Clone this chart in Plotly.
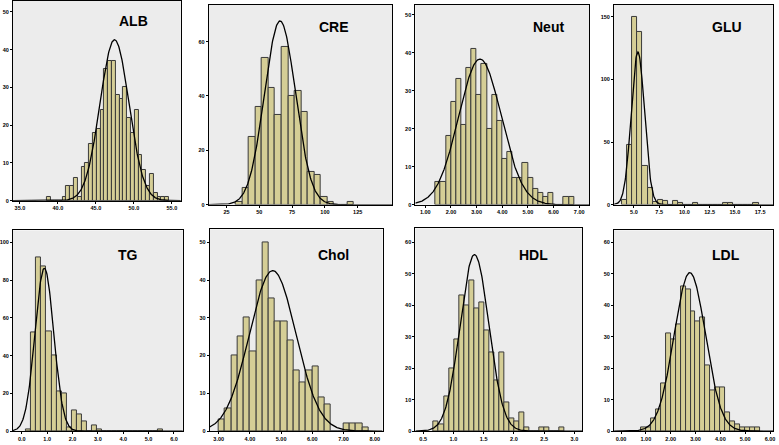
import numpy as np
import plotly.graph_objects as go

W, H = 779, 445

# ---------------- data ----------------
alb_start, alb_width = 38.6, 0.5
alb_counts = [1, 0, 0, 0, 1, 4, 4, 6, 1, 9, 10, 15, 18, 19, 24, 35, 37, 37, 28, 27,
              30, 22, 18, 24, 12, 8, 4, 7, 2, 1, 1, 1]
alb_mean, alb_sd = 47.45, 1.90

cre_start, cre_width = 32.0, 5.0
cre_counts = [1, 6, 25, 36, 54, 43, 33, 58, 40, 42, 34, 12, 11, 3, 1, 0, 0, 1]
cre_mean, cre_sd = 65.8, 11.8

neut_start, neut_width = 1.4, 0.2
neut_counts = [6, 6, 18, 27, 33, 21, 36, 41, 29, 37, 20, 29, 22, 12, 14, 7, 7, 11, 7, 4,
               3, 2, 3, 0, 0, 2, 2]
neut_mean, neut_sd = 3.13, 0.83

glu_start, glu_width = 3.85, 0.5
glu_counts = [4, 48, 150, 138, 31, 13, 2, 4, 3, 0, 3, 1, 0, 0, 1, 0, 0, 0, 0, 0,
              1, 1, 0, 0, 0, 0, 1]
glu_mean, glu_sd = 5.39, 0.656

tg_start, tg_width = 0.17, 0.2
tg_counts = [1, 52, 92, 87, 53, 40, 21, 20, 2, 11, 9, 5, 0, 3, 1, 0, 0, 0, 0, 0,
             0, 0, 0, 0, 0, 0, 1]
tg_mean, tg_sd = 0.89, 0.368

chol_start, chol_width = 3.0, 0.2
chol_counts = [3, 6, 20, 25, 30, 21, 40, 50, 35, 29, 29, 24, 16, 13, 16, 17, 9, 7, 0, 0,
               2, 2, 2, 1]
chol_mean, chol_sd = 4.73, 0.745

hdl_start, hdl_width = 0.675, 0.0833
hdl_counts = [3, 2, 11, 20, 29, 43, 40, 48, 39, 41, 32, 25, 16, 25, 9, 4, 3, 6, 1, 0,
              0, 1, 1, 0, 0, 1]
hdl_mean, hdl_sd = 1.348, 0.237

ldl_start, ldl_width = 0.8, 0.2
ldl_counts = [1, 1, 4, 7, 15, 31, 29, 34, 46, 45, 38, 35, 36, 21, 13, 14, 14, 6, 3, 2,
              1, 1, 1, 1]
ldl_mean, ldl_sd = 2.77, 0.632

names = ["ALB", "CRE", "Neut", "GLU", "TG", "Chol", "HDL", "LDL"]
x_ticks = [
    [35.0, 40.0, 45.0, 50.0, 55.0],
    [25, 50, 75, 100, 125],
    [1.0, 2.0, 3.0, 4.0, 5.0, 6.0, 7.0],
    [5.0, 7.5, 10.0, 12.5, 15.0, 17.5],
    [0.0, 1.0, 2.0, 3.0, 4.0, 5.0, 6.0],
    [3.0, 4.0, 5.0, 6.0, 7.0, 8.0],
    [0.5, 1.0, 1.5, 2.0, 2.5, 3.0],
    [0.0, 1.0, 2.0, 3.0, 4.0, 5.0, 6.0],
]
x_fmt = [".1f", "d", ".2f", ".1f", ".1f", ".2f", ".1f", ".2f"]
y_ticks = [
    [0, 10, 20, 30, 40, 50],
    [0, 20, 40, 60],
    [0, 10, 20, 30, 40, 50],
    [0, 50, 100, 150],
    [0, 20, 40, 60, 80, 100],
    [0, 10, 20, 30, 40, 50],
    [0, 10, 20, 30, 40, 50, 60],
    [0, 10, 20, 30, 40, 50, 60],
]

panels = [
    (alb_start, alb_width, alb_counts, alb_mean, alb_sd),
    (cre_start, cre_width, cre_counts, cre_mean, cre_sd),
    (neut_start, neut_width, neut_counts, neut_mean, neut_sd),
    (glu_start, glu_width, glu_counts, glu_mean, glu_sd),
    (tg_start, tg_width, tg_counts, tg_mean, tg_sd),
    (chol_start, chol_width, chol_counts, chol_mean, chol_sd),
    (hdl_start, hdl_width, hdl_counts, hdl_mean, hdl_sd),
    (ldl_start, ldl_width, ldl_counts, ldl_mean, ldl_sd),
]

# ---------------- layout (pixel frames, axis ranges) ----------------
frames = [  # left, right, top, bottom in px
    (10, 179, 1, 202),
    (207, 392, 5, 206),
    (415, 590, 5, 206),
    (615, 775, 5, 206),
    (10, 181, 232, 434),
    (208, 382, 231, 434),
    (415, 583, 230, 434),
    (615, 775, 232, 434),
]
x_ranges = [
    (34.08, 56.18), (11.4, 151.5), (0.61, 7.39), (3.03, 18.78),
    (-0.35, 6.35), (2.71, 8.25), (0.37, 3.13), (-0.28, 6.12),
]
y_ranges = [
    (0, 52.9), (0, 73.5), (0, 52.6), (0, 159.5),
    (0, 106.3), (0, 53.4), (0, 64.4), (0, 63.8),
]
title_pos = [
    (131, 21), (333, 27), (549, 27), (729, 27),
    (126, 257), (333, 257), (534, 257), (728, 257),
]

BAR_COLOR = "#D5CE96"
fig = go.Figure()
layout = dict(
    width=W, height=H,
    margin=dict(l=0, r=0, t=0, b=0),
    paper_bgcolor="white",
    plot_bgcolor="#ECECEC",
    showlegend=False,
    annotations=[],
)

for i, (start, bw, counts, mu, sd) in enumerate(panels):
    k = "" if i == 0 else str(i + 1)
    xa, ya = "x" + k, "y" + k
    counts = np.array(counts, dtype=float)
    centers = start + bw * (np.arange(len(counts)) + 0.5)
    fig.add_trace(go.Bar(
        x=centers, y=counts, width=bw, xaxis=xa, yaxis=ya,
        marker=dict(color=BAR_COLOR, line=dict(color="#3a3a3a", width=1)),
        hoverinfo="x+y",
    ))
    n = counts.sum()
    xr = x_ranges[i]
    xs = np.linspace(xr[0], xr[1], 400)
    ys = n * bw / (sd * np.sqrt(2 * np.pi)) * np.exp(-0.5 * ((xs - mu) / sd) ** 2)
    fig.add_trace(go.Scatter(
        x=xs, y=ys, mode="lines", xaxis=xa, yaxis=ya,
        line=dict(color="black", width=1.3), hoverinfo="skip",
    ))

    l, r, t, b = frames[i]
    tick_font = dict(family="Liberation Sans Narrow, Liberation Sans", size=5.5,
                     color="black", weight="bold")
    layout["xaxis" + k] = dict(
        domain=[l / W, r / W], anchor=ya, range=list(xr),
        tickvals=x_ticks[i], tickformat=x_fmt[i],
        showline=True, mirror=True, linecolor="black", linewidth=1,
        ticks="outside", ticklen=2, tickcolor="black", tickfont=tick_font,
        showgrid=False, zeroline=False, fixedrange=True,
    )
    layout["yaxis" + k] = dict(
        domain=[1 - b / H, 1 - t / H], anchor=xa, range=list(y_ranges[i]),
        tickvals=y_ticks[i],
        showline=True, mirror=True, linecolor="black", linewidth=1,
        ticks="outside", ticklen=2, tickcolor="black", tickfont=tick_font,
        showgrid=False, zeroline=False, fixedrange=True,
    )
    tx, ty = title_pos[i]
    layout["annotations"].append(dict(
        text="<b>" + names[i] + "</b>", x=tx / W, y=1 - ty / H,
        xref="paper", yref="paper", showarrow=False,
        font=dict(family="Liberation Sans", size=14, color="black"),
        xanchor="center", yanchor="middle",
    ))

fig.update_layout(**layout, bargap=0)
fig.write_html(
    "out.html",
    config={"displayModeBar": False},
    post_script="document.body.style.margin='0px';document.body.style.overflow='hidden';",
)
